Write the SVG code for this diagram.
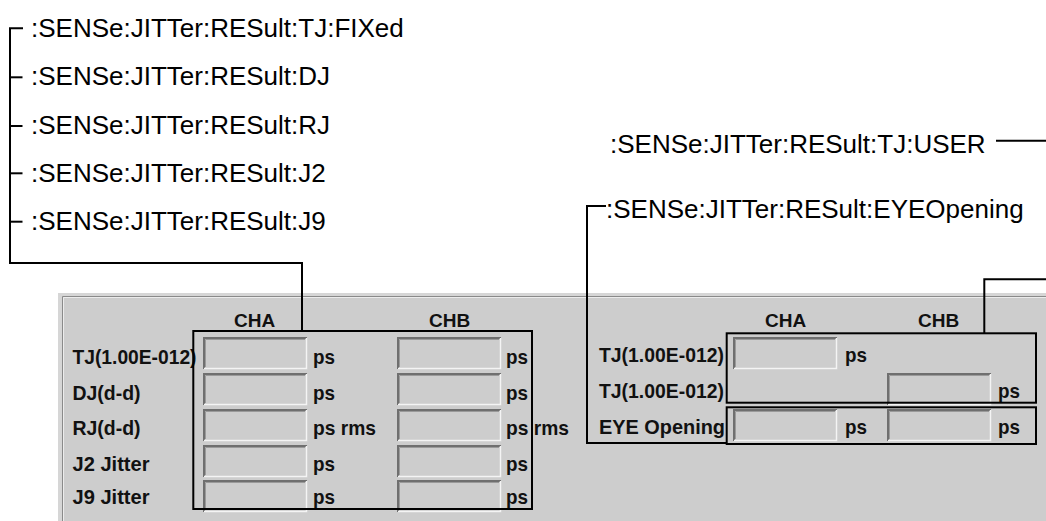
<svg xmlns="http://www.w3.org/2000/svg" width="1046" height="521" viewBox="0 0 1046 521">
<style>
.cmd{font-family:"Liberation Sans",Arial,sans-serif;font-size:26px;fill:#000}
.ui{font-family:"Liberation Sans",Arial,sans-serif;font-size:21px;font-weight:bold;fill:#111}
.hdr{font-family:"Liberation Sans",Arial,sans-serif;font-size:19px;font-weight:bold;fill:#111}
.ln{fill:none;stroke:#000;stroke-width:2}
.box{fill:none;stroke:#000;stroke-width:2}
</style>
<defs>
<g id="field">
<rect x="0" y="0" width="104" height="32" fill="#cdcdcd"/>
<path d="M1,32 V1 H104" fill="none" stroke="#6f6f6f" stroke-width="2"/>
<path d="M2.5,30 V2.5 H102" fill="none" stroke="#9a9a9a" stroke-width="1"/>
<path d="M1,31.5 H103.5 V1" fill="none" stroke="#f4f4f4" stroke-width="1.5"/>
</g>
</defs>
<rect x="0" y="0" width="1046" height="521" fill="#fff"/>

<g id="panel">
<rect x="58" y="293" width="988" height="228" fill="#d6d6d6"/>
<rect x="62" y="297" width="984" height="224" fill="#cdcdcd"/>
<path d="M62.5,521 V296.5 H1046" fill="none" stroke="#8a8a8a" stroke-width="1"/>
<path d="M63.5,521 V297.5 H1046" fill="none" stroke="#ececec" stroke-width="1"/>
</g>

<g id="jitter-table">
<text class="hdr" x="234" y="327">CHA</text>
<text class="hdr" x="429" y="327">CHB</text>
<use href="#field" x="203" y="337"/>
<use href="#field" x="203" y="373"/>
<use href="#field" x="203" y="409"/>
<use href="#field" x="203" y="445"/>
<use href="#field" x="203" y="480"/>
<use href="#field" x="397" y="337"/>
<use href="#field" x="397" y="373"/>
<use href="#field" x="397" y="409"/>
<use href="#field" x="397" y="445"/>
<use href="#field" x="397" y="480"/>
<text class="ui" x="72.5" y="364" textLength="124" lengthAdjust="spacingAndGlyphs">TJ(1.00E-012)</text>
<text class="ui" x="72.5" y="400" textLength="68" lengthAdjust="spacingAndGlyphs">DJ(d-d)</text>
<text class="ui" x="72.5" y="435" textLength="68" lengthAdjust="spacingAndGlyphs">RJ(d-d)</text>
<text class="ui" x="72.5" y="470.5" textLength="77" lengthAdjust="spacingAndGlyphs">J2 Jitter</text>
<text class="ui" x="72.5" y="504" textLength="77" lengthAdjust="spacingAndGlyphs">J9 Jitter</text>
<text class="ui" x="313" y="364" textLength="22" lengthAdjust="spacingAndGlyphs">ps</text>
<text class="ui" x="313" y="400" textLength="22" lengthAdjust="spacingAndGlyphs">ps</text>
<text class="ui" x="313" y="435" textLength="63" lengthAdjust="spacingAndGlyphs">ps rms</text>
<text class="ui" x="313" y="470.5" textLength="22" lengthAdjust="spacingAndGlyphs">ps</text>
<text class="ui" x="313" y="504" textLength="22" lengthAdjust="spacingAndGlyphs">ps</text>
<text class="ui" x="506" y="364" textLength="22" lengthAdjust="spacingAndGlyphs">ps</text>
<text class="ui" x="506" y="400" textLength="22" lengthAdjust="spacingAndGlyphs">ps</text>
<text class="ui" x="506" y="435" textLength="63" lengthAdjust="spacingAndGlyphs">ps rms</text>
<text class="ui" x="506" y="470.5" textLength="22" lengthAdjust="spacingAndGlyphs">ps</text>
<text class="ui" x="506" y="504" textLength="22" lengthAdjust="spacingAndGlyphs">ps</text>
</g>

<g id="user-table">
<text class="hdr" x="765" y="327">CHA</text>
<text class="hdr" x="918" y="327">CHB</text>
<use href="#field" x="733" y="337"/>
<use href="#field" x="887" y="373"/>
<use href="#field" x="733" y="409"/>
<use href="#field" x="887" y="409"/>
<text class="ui" x="599" y="362" textLength="125" lengthAdjust="spacingAndGlyphs">TJ(1.00E-012)</text>
<text class="ui" x="599" y="398" textLength="125" lengthAdjust="spacingAndGlyphs">TJ(1.00E-012)</text>
<text class="ui" x="599" y="433.5" textLength="126" lengthAdjust="spacingAndGlyphs">EYE Opening</text>
<text class="ui" x="845" y="362" textLength="22" lengthAdjust="spacingAndGlyphs">ps</text>
<text class="ui" x="998" y="398" textLength="22" lengthAdjust="spacingAndGlyphs">ps</text>
<text class="ui" x="845" y="433.5" textLength="22" lengthAdjust="spacingAndGlyphs">ps</text>
<text class="ui" x="998" y="433.5" textLength="22" lengthAdjust="spacingAndGlyphs">ps</text>
</g>

<g id="box-jitter"><rect class="box" x="193.3" y="331" width="338.7" height="178"/></g>
<g id="box-tj-user"><rect class="box" x="726.7" y="333.3" width="309.3" height="69.4"/></g>
<g id="box-eye"><rect class="box" x="726.7" y="407.3" width="309.3" height="36.7"/></g>

<g id="lbl-tj-fixed"><text class="cmd" x="31" y="36.5">:SENSe:JITTer:RESult:TJ:FIXed</text></g>
<g id="lbl-dj"><text class="cmd" x="31" y="85">:SENSe:JITTer:RESult:DJ</text></g>
<g id="lbl-rj"><text class="cmd" x="31" y="133.5">:SENSe:JITTer:RESult:RJ</text></g>
<g id="lbl-j2"><text class="cmd" x="31" y="181.5">:SENSe:JITTer:RESult:J2</text></g>
<g id="lbl-j9"><text class="cmd" x="31" y="230">:SENSe:JITTer:RESult:J9</text></g>
<g id="lbl-tj-user"><text class="cmd" x="610" y="153.3">:SENSe:JITTer:RESult:TJ:USER</text></g>
<g id="lbl-eye"><text class="cmd" x="606" y="218">:SENSe:JITTer:RESult:EYEOpening</text></g>

<g id="connectors">
<path class="ln" d="M23,28.3 H10 V263 H302 V331"/>
<path class="ln" d="M10,77.3 H22.5"/>
<path class="ln" d="M10,126 H22.5"/>
<path class="ln" d="M10,173.3 H22.5"/>
<path class="ln" d="M10,221.7 H22.5"/>
<path class="ln" d="M996,140.7 H1046"/>
<path class="ln" d="M606,206 H587 V443 H727"/>
<path class="ln" d="M1046,279.3 H984.3 V333"/>
</g>
</svg>
